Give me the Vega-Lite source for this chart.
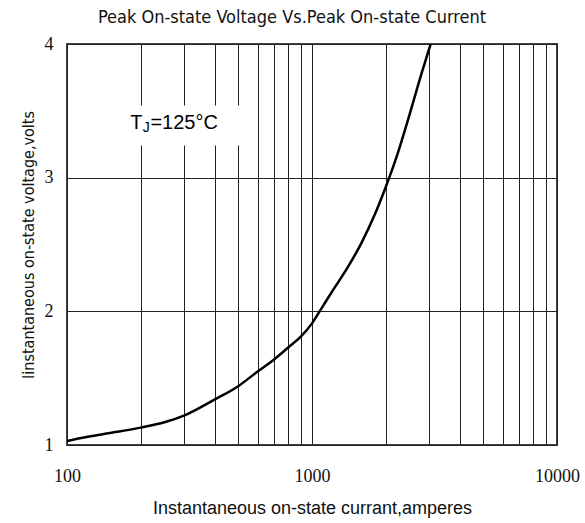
{
  "$schema": "https://vega.github.io/schema/vega-lite/v6.json",
  "width": 490,
  "height": 401,
  "autosize": "none",
  "padding": {"left": 67, "top": 44, "right": 28, "bottom": 78},
  "background": "white",
  "title": {"text": "Peak On-state Voltage Vs.Peak On-state Current", "font": "DejaVu Sans Condensed, Liberation Sans", "fontSize": 18, "fontWeight": "normal", "color": "#111", "offset": 8, "anchor": "middle", "dx": -20},
  "config": {"view": {"stroke": "#444", "strokeWidth": 2}},
  "datasets": {
    "curve": [
      {"I": 100, "V": 1.03}, {"I": 120, "V": 1.06}, {"I": 150, "V": 1.09}, {"I": 200, "V": 1.13},
      {"I": 250, "V": 1.17}, {"I": 300, "V": 1.22}, {"I": 400, "V": 1.34}, {"I": 500, "V": 1.44},
      {"I": 600, "V": 1.55}, {"I": 700, "V": 1.64}, {"I": 800, "V": 1.73}, {"I": 900, "V": 1.81},
      {"I": 1000, "V": 1.91}, {"I": 1100, "V": 2.03}, {"I": 1200, "V": 2.14}, {"I": 1400, "V": 2.33},
      {"I": 1600, "V": 2.52}, {"I": 1800, "V": 2.72}, {"I": 2000, "V": 2.93}, {"I": 2200, "V": 3.14},
      {"I": 2500, "V": 3.47}, {"I": 2800, "V": 3.78}, {"I": 3050, "V": 4.0}
    ],
    "box": [{"x1": 170, "x2": 570, "y1": 3.24, "y2": 3.54}],
    "labels": [
      {"x": 181, "y": 3.362, "t": "T", "s": 20},
      {"x": 204, "y": 3.345, "t": "J", "s": 14},
      {"x": 219, "y": 3.362, "t": "=125°C", "s": 20}
    ]
  },
  "layer": [
    {
      "data": {"name": "box"},
      "mark": {"type": "rect", "fill": "white"},
      "encoding": {
        "x": {"field": "x1", "type": "quantitative", "scale": {"type": "log", "domain": [100, 10000]},
          "axis": {"values": [100, 200, 300, 400, 500, 600, 700, 800, 900, 1000, 2000, 3000, 4000, 5000, 6000, 7000, 8000, 9000, 10000],
            "format": "d", "labelExpr": "datum.value == 100 || datum.value == 1000 || datum.value == 10000 ? datum.label : ''",
            "grid": true, "gridColor": "#222", "gridOpacity": 1, "gridWidth": 1, "ticks": false, "domain": false,
            "labelFont": "Liberation Serif", "labelFontSize": 18, "labelColor": "#111", "labelPadding": 22, "labelFlush": false,
            "title": "Instantaneous on-state currant,amperes", "titleFont": "Liberation Sans", "titleFontSize": 18, "titleFontWeight": "normal", "titleColor": "#111", "titlePadding": 14}},
        "x2": {"field": "x2"},
        "y": {"field": "y1", "type": "quantitative", "scale": {"domain": [1, 4], "nice": false, "zero": false},
          "axis": {"values": [1, 2, 3, 4], "format": "d", "grid": true, "gridColor": "#222", "gridOpacity": 1, "gridWidth": 1, "ticks": false, "domain": false,
            "labelFont": "Liberation Serif", "labelFontSize": 18, "labelColor": "#111", "labelPadding": 14,
            "title": "Iinstantaneous on-state voltage,volts", "titleFont": "DejaVu Sans Condensed, Liberation Sans", "titleFontSize": 16, "titleFontWeight": "normal", "titleColor": "#111", "titlePadding": 8}},
        "y2": {"field": "y2"}
      }
    },
    {
      "data": {"name": "curve"},
      "mark": {"type": "line", "color": "black", "strokeWidth": 2.5, "interpolate": "monotone", "clip": true},
      "encoding": {
        "x": {"field": "I", "type": "quantitative"},
        "y": {"field": "V", "type": "quantitative"}
      }
    },
    {
      "data": {"name": "labels"},
      "mark": {"type": "text", "align": "left", "baseline": "alphabetic", "font": "Liberation Sans", "color": "black"},
      "encoding": {
        "x": {"field": "x", "type": "quantitative"},
        "y": {"field": "y", "type": "quantitative"},
        "text": {"field": "t"},
        "size": {"field": "s", "type": "quantitative", "scale": null}
      }
    }
  ]
}
